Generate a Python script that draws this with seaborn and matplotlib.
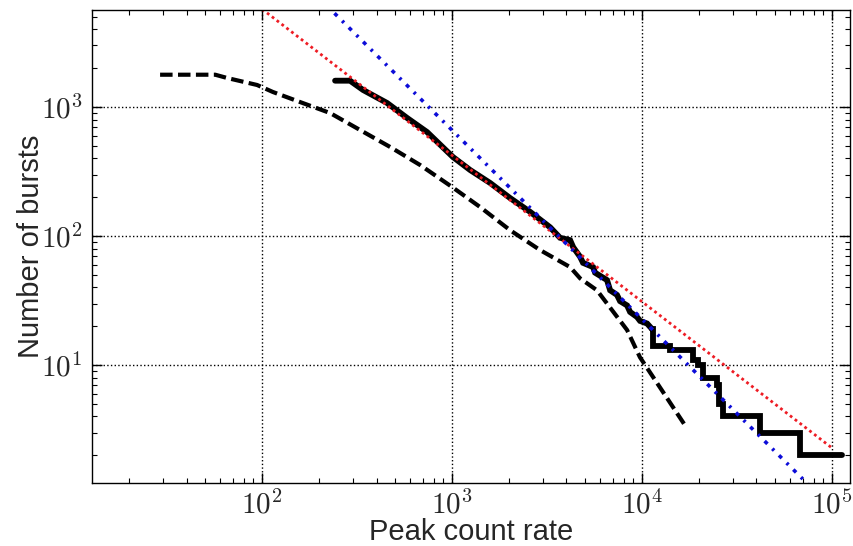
import numpy as np
import pandas as pd
import matplotlib
matplotlib.use("Agg")
import matplotlib.pyplot as plt
import seaborn as sns
from matplotlib.ticker import FuncFormatter, LogLocator, NullFormatter

# ---- data ----
# observed cumulative distribution (smooth upper part)
obs_x = [242, 290, 340, 455, 580, 738, 1010, 1244, 1585, 2020, 2575, 3280, 3700,
         4180, 4340, 4720, 4890, 5520, 5660, 6540, 6790, 7380, 7660, 8340, 8650,
         9410, 9760, 10630, 11300]
obs_n = [1600, 1600, 1355, 1074, 822, 640, 410, 325, 258, 197, 154, 117, 97,
         93, 82, 69, 62, 57.5, 52, 45.6, 38, 35, 31.3, 29, 25.8,
         23.6, 22, 21, 19]
# observed cumulative distribution (stepped tail)
tail_x = [11300, 11430, 14030, 18550, 19700, 20900, 24800, 25500, 26700, 41800, 67900, 113000]
tail_n = [19, 14, 13, 11, 10, 8, 7, 5, 4, 3, 2, 2]
# model curve (dashed)
model_x = [29, 56.6, 65.5, 94, 114, 158, 228, 328, 472, 679, 1000, 1403, 2020,
           2900, 4180, 4720, 5790, 6540, 8340, 9750, 12400, 16800]
model_n = [1780, 1780, 1678, 1482, 1307, 1094, 898, 663, 490, 355, 240, 168, 111,
           78, 57.5, 47, 38, 30, 18.7, 11.5, 6.75, 3.43]
# power-law fits
red_x = [100, 1e5]
red_n = [5730, 2.28]
blue_x = [200, 1e5]
blue_n = [6970, 0.78]

# ---- style ----
sns.set_theme(style="white")
plt.rcParams["font.family"] = ["Liberation Sans", "DejaVu Sans"]
plt.rcParams["mathtext.fontset"] = "cm"

fig, ax = plt.subplots(figsize=(8.54, 5.46), dpi=100)
fig.subplots_adjust(left=0.1077, right=0.9953, bottom=0.1154, top=0.9817)

ax.set_xscale("log")
ax.set_yscale("log")

obs = pd.DataFrame({"x": obs_x, "n": obs_n})
tail = pd.DataFrame({"x": tail_x, "n": tail_n})
model = pd.DataFrame({"x": model_x, "n": model_n})
red = pd.DataFrame({"x": red_x, "n": red_n})
blue = pd.DataFrame({"x": blue_x, "n": blue_n})

sns.lineplot(data=obs, x="x", y="n", ax=ax, color="black", lw=4.2,
             estimator=None, sort=False, solid_joinstyle="miter")
sns.lineplot(data=tail, x="x", y="n", ax=ax, color="black", lw=4.2,
             estimator=None, sort=False, drawstyle="steps-post",
             solid_joinstyle="miter")
sns.lineplot(data=model, x="x", y="n", ax=ax, color="black", lw=3,
             estimator=None, sort=False, linestyle=(0, (3.0, 1.3)))
sns.lineplot(data=red, x="x", y="n", ax=ax, color="#ee1c24", lw=2,
             estimator=None, sort=False, linestyle=(0, (1.0, 1.2)))
sns.lineplot(data=blue, x="x", y="n", ax=ax, color="#0c0cd8", lw=2.6,
             estimator=None, sort=False, linestyle=(0, (1.1, 1.9, 0.7, 1.9)))

ax.set_xlim(12.7, 1.244e5)
ax.set_ylim(1.22, 5650)

ax.xaxis.set_major_locator(LogLocator(base=10))
ax.yaxis.set_major_locator(LogLocator(base=10))
ax.xaxis.set_minor_locator(LogLocator(base=10, subs=np.arange(2, 10)))
ax.yaxis.set_minor_locator(LogLocator(base=10, subs=np.arange(2, 10)))
fmt = FuncFormatter(lambda v, p: r"$10^{%d}$" % int(round(np.log10(v))))
ax.xaxis.set_major_formatter(fmt)
ax.yaxis.set_major_formatter(fmt)
ax.xaxis.set_minor_formatter(NullFormatter())
ax.yaxis.set_minor_formatter(NullFormatter())

ax.grid(True, which="major", color="black", linestyle=":", linewidth=1)
ax.tick_params(which="both", direction="in", top=True, right=True,
               bottom=True, left=True, color="black")
ax.tick_params(which="major", length=7, width=1, labelsize=21)
ax.tick_params(axis="x", which="major", pad=5)
ax.tick_params(axis="y", which="major", pad=7)
ax.tick_params(which="minor", length=3.5, width=0.8)
for s in ax.spines.values():
    s.set_color("black")
    s.set_linewidth(1)

ax.set_xlabel("Peak count rate", fontsize=21, labelpad=-1)
ax.set_ylabel("Number of bursts", fontsize=21, labelpad=-3)

fig.savefig("out.png", dpi=100)
